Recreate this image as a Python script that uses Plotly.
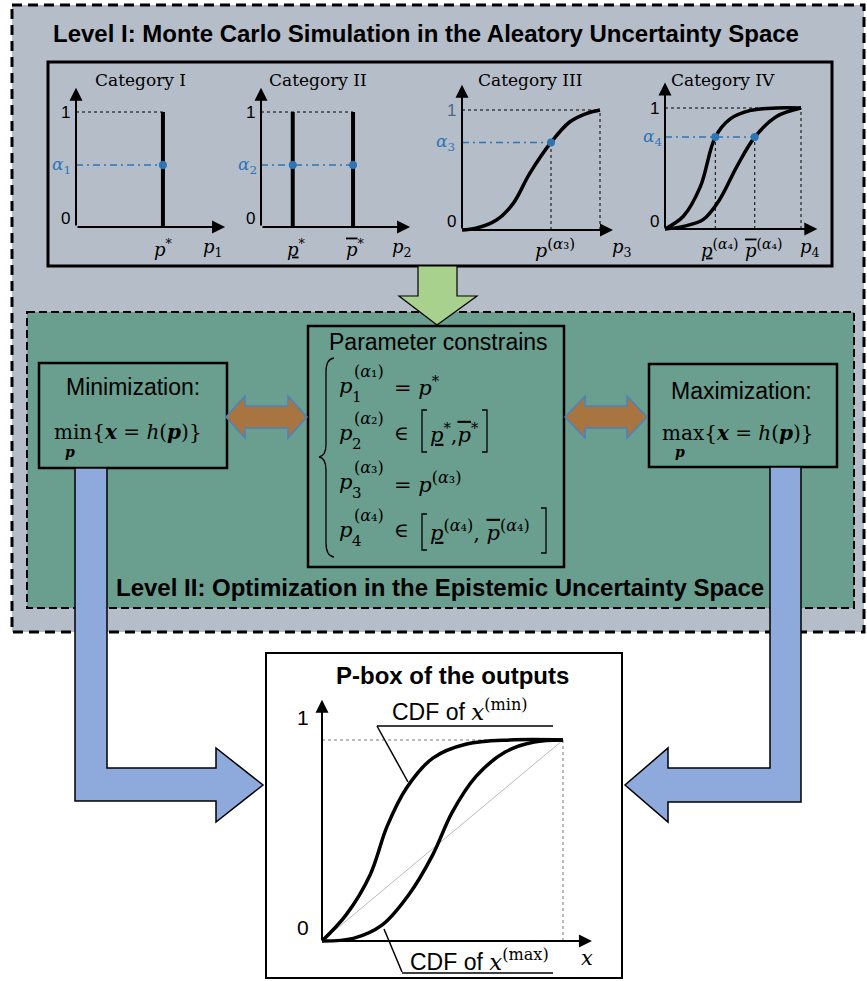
import plotly.graph_objects as go

W, H = 867, 981

# ---------------- data (unit coordinates) ----------------
cat_titles = ["Category I", "Category II", "Category III", "Category IV"]
cat1_pstar = 0.63
cat1_alpha = 0.54
cat2_bounds = [0.23, 0.667]
cat2_alpha = 0.54
cat3_x = [0, 0.10, 0.25, 0.37, 0.49, 0.645, 0.78, 0.90, 1.0]
cat3_y = [0, 0.014, 0.083, 0.22, 0.47, 0.73, 0.90, 0.97, 1.0]
cat3_alpha = 0.73
cat3_palpha = 0.645
cat4_upper_x = [0, 0.135, 0.26, 0.37, 0.48, 0.63, 0.82, 1.0]
cat4_upper_y = [0, 0.105, 0.35, 0.76, 0.91, 0.98, 1.0, 1.0]
cat4_lower_x = [0, 0.135, 0.28, 0.40, 0.53, 0.66, 0.82, 1.0]
cat4_lower_y = [0, 0.022, 0.077, 0.24, 0.52, 0.76, 0.93, 1.0]
cat4_alpha = 0.76
cat4_bounds = [0.37, 0.66]
pbox_min_x = [0, 0.10, 0.20, 0.27, 0.35, 0.46, 0.60, 0.78, 1.0]
pbox_min_y = [0, 0.13, 0.33, 0.57, 0.76, 0.91, 0.98, 1.0, 1.0]
pbox_max_x = [0, 0.13, 0.25, 0.36, 0.46, 0.54, 0.64, 0.76, 0.88, 1.0]
pbox_max_y = [0, 0.013, 0.08, 0.23, 0.43, 0.64, 0.82, 0.94, 0.99, 1.0]

# ---------------- styles ----------------
SANS = "Liberation Sans, Arial, sans-serif"
SERIF = "DejaVu Serif, serif"
GRAY = "#B5BDC8"
TEAL = "#6A9E8E"
BLUE = "#2E75B6"
ARROW_BLUE = "#8EA9DB"
GREEN = "#A9D18E"
BROWN = "#A8743F"

UL = "<span style='text-decoration:underline'><i>p</i></span>"
OL = "<span style='text-decoration:overline'><i>p</i></span>"


def supa(k, px):
    return "<sup><span style='font-size:%dpx'>(<i>α</i>%s)</span></sup>" % (px, "\u2081\u2082\u2083\u2084"[k - 1])


fig = go.Figure()
shapes = []
anns = []

# panel placement: origin pixel, pixels per unit, axis ranges
panels = {
    2: dict(ox=76, oy=227, w=138, h=115, xr=[-0.35, 1.3], yr=[-0.3, 1.35]),
    3: dict(ox=261, oy=227, w=138, h=115, xr=[-0.35, 1.3], yr=[-0.3, 1.35]),
    4: dict(ox=462, oy=230, w=138, h=120, xr=[-0.35, 1.3], yr=[-0.3, 1.3]),
    5: dict(ox=665, oy=229, w=136, h=121, xr=[-0.35, 1.3], yr=[-0.3, 1.3]),
    6: dict(ox=322, oy=941, w=241, h=201, xr=[-0.25, 1.25], yr=[-0.15, 1.3]),
}

layout_axes = {
    "xaxis": dict(domain=[0, 1], range=[0, W], visible=False, fixedrange=True),
    "yaxis": dict(domain=[0, 1], range=[H, 0], visible=False, fixedrange=True),
}
for n, p in panels.items():
    ox, oy, w, h = p["ox"], p["oy"], p["w"], p["h"]
    xr, yr = p["xr"], p["yr"]
    layout_axes[f"xaxis{n}"] = dict(domain=[(ox + xr[0] * w) / W, (ox + xr[1] * w) / W],
                                    range=xr, visible=False, fixedrange=True, anchor=f"y{n}")
    layout_axes[f"yaxis{n}"] = dict(domain=[1 - (oy - yr[0] * h) / H, 1 - (oy - yr[1] * h) / H],
                                    range=yr, visible=False, fixedrange=True, anchor=f"x{n}")


def rect(x0, y0, x1, y1, color="black", width=2, dash="solid", fill="rgba(0,0,0,0)", layer="above"):
    shapes.append(dict(type="rect", xref="x", yref="y", x0=x0, y0=y0, x1=x1, y1=y1,
                       line=dict(color=color, width=width, dash=dash), fillcolor=fill, layer=layer))


def path(d, fill="rgba(0,0,0,0)", color="black", width=1.5, layer="above"):
    shapes.append(dict(type="path", xref="x", yref="y", path=d, fillcolor=fill,
                       line=dict(color=color, width=width), layer=layer))


def seg(x0, y0, x1, y1, color="black", width=1.5):
    shapes.append(dict(type="line", xref="x", yref="y", x0=x0, y0=y0, x1=x1, y1=y1,
                       line=dict(color=color, width=width), layer="above"))


def txt(x, y, s, size=16, family=SANS, color="black", xanchor="center", yanchor="middle"):
    anns.append(dict(x=x, y=y, xref="x", yref="y", text=s, showarrow=False,
                     font=dict(size=size, family=family, color=color),
                     xanchor=xanchor, yanchor=yanchor))


def axis_arrow(n, x1, y1):
    anns.append(dict(x=x1, y=y1, ax=0, ay=0, xref=f"x{n}", yref=f"y{n}", axref=f"x{n}", ayref=f"y{n}",
                     text="", showarrow=True, arrowhead=2, arrowsize=1.3, arrowwidth=2,
                     arrowcolor="black", standoff=0, startstandoff=0))


def line(n, xs, ys, color="black", width=1, dash="solid", shape="linear"):
    fig.add_trace(go.Scatter(x=xs, y=ys, xaxis=f"x{n}", yaxis=f"y{n}", mode="lines",
                             line=dict(color=color, width=width, dash=dash, shape=shape, smoothing=1.0),
                             hoverinfo="skip", showlegend=False))


def dots(n, xs, ys):
    fig.add_trace(go.Scatter(x=xs, y=ys, xaxis=f"x{n}", yaxis=f"y{n}", mode="markers",
                             marker=dict(color=BLUE, size=8), hoverinfo="skip", showlegend=False))


DASH = "3px,3px"
DASHDOT = "7px,4px,2px,4px"

# ---------------- backgrounds / boxes ----------------
rect(12, 5, 864, 632, width=3, dash="10px,6px", fill=GRAY, layer="below")
rect(48, 62, 832, 266, width=3, layer="below")
rect(27, 312, 854, 608, width=2, dash="8px,4px", fill=TEAL, layer="below")
rect(308, 326, 564, 567, width=2.5)
rect(39, 363, 227, 468, width=2.5)
rect(649, 364, 837, 467, width=2.5)
rect(266, 653, 622, 978, width=2)

# arrows
path("M418,266 L457,266 L457,296 L477,296 L437,325 L399,296 L418,296 Z", fill=GREEN, color="black", width=1.2)
path("M226,417 L245,396 L245,406 L288,406 L288,396 L307,417 L288,438 L288,428 L245,428 L245,438 Z",
     fill=BROWN, color="#4F81BD", width=1.5)
path("M565,417 L585,396 L585,406 L627,406 L627,396 L647,417 L627,438 L627,428 L585,428 L585,438 Z",
     fill=BROWN, color="#4F81BD", width=1.5)
path("M75,468 L107,468 L107,768 L216,768 L216,748 L263,785 L216,822 L216,801 L75,801 Z",
     fill=ARROW_BLUE, color="black", width=1.5)
path("M770,467 L801,467 L801,802 L668,802 L668,822 L625,785 L668,748 L668,768 L770,768 Z",
     fill=ARROW_BLUE, color="black", width=1.5)

# ---------------- titles ----------------
txt(426, 33, "<b>Level I: Monte Carlo Simulation in the Aleatory Uncertainty Space</b>", size=24)
txt(440, 587, "<b>Level II: Optimization in the Epistemic Uncertainty Space</b>", size=24)
txt(140, 80, cat_titles[0], size=17, family=SERIF)
txt(318, 80, cat_titles[1], size=17, family=SERIF)
txt(530, 80, cat_titles[2], size=17, family=SERIF)
txt(723, 80, cat_titles[3], size=17, family=SERIF)

# ---------------- Category I ----------------
n = 2
axis_arrow(n, 1.08, 0)
axis_arrow(n, 0, 1.21)
line(n, [0, cat1_pstar], [1, 1], dash=DASH)
line(n, [cat1_pstar, cat1_pstar], [0, 1], width=4)
line(n, [0, cat1_pstar], [cat1_alpha, cat1_alpha], color=BLUE, width=1.5, dash=DASHDOT)
dots(n, [cat1_pstar], [cat1_alpha])
txt(72, 112, "1", size=17, xanchor="right")
txt(72, 218, "0", size=17, xanchor="right")
txt(73, 165, "<i>α</i><sub>1</sub>", size=17, family=SERIF, color=BLUE, xanchor="right")
txt(163, 248, "<i>p</i><sup>*</sup>", size=18, family=SERIF)
txt(213, 248, "<i>p</i><sub>1</sub>", size=18, family=SERIF)

# ---------------- Category II ----------------
n = 3
axis_arrow(n, 1.08, 0)
axis_arrow(n, 0, 1.21)
line(n, [0, cat2_bounds[1]], [1, 1], dash=DASH)
for b in cat2_bounds:
    line(n, [b, b], [0, 1], width=4)
line(n, [0, cat2_bounds[1]], [cat2_alpha, cat2_alpha], color=BLUE, width=1.5, dash=DASHDOT)
dots(n, cat2_bounds, [cat2_alpha, cat2_alpha])
txt(257, 112, "1", size=17, xanchor="right")
txt(257, 218, "0", size=17, xanchor="right")
txt(259, 165, "<i>α</i><sub>2</sub>", size=17, family=SERIF, color=BLUE, xanchor="right")
txt(296, 248, UL + "<sup>*</sup>", size=18, family=SERIF)
txt(355, 248, OL + "<sup>*</sup>", size=18, family=SERIF)
txt(402, 248, "<i>p</i><sub>2</sub>", size=18, family=SERIF)

# ---------------- Category III ----------------
n = 4
axis_arrow(n, 1.094, 0)
axis_arrow(n, 0, 1.21)
line(n, [0, 1], [1, 1], dash=DASH)
line(n, [1, 1], [0, 1], dash=DASH)
line(n, [cat3_palpha, cat3_palpha], [0, cat3_alpha], dash=DASH)
line(n, [0, cat3_palpha], [cat3_alpha, cat3_alpha], color=BLUE, width=1.5, dash=DASHDOT)
line(n, cat3_x, cat3_y, width=3.5, shape="spline")
dots(n, [cat3_palpha], [cat3_alpha])
txt(458, 110, "1", size=17, color="#4A6A8A", xanchor="right")
txt(458, 221, "0", size=17, xanchor="right")
txt(457, 142, "<i>α</i><sub>3</sub>", size=17, family=SERIF, color=BLUE, xanchor="right")
txt(555, 248, "<i>p</i>" + supa(3, 15), size=19, family=SERIF)
txt(622, 248, "<i>p</i><sub>3</sub>", size=18, family=SERIF)

# ---------------- Category IV ----------------
n = 5
axis_arrow(n, 1.12, 0)
axis_arrow(n, 0, 1.21)
line(n, [0, 1], [1, 1], dash=DASH)
line(n, [1, 1], [0, 1], dash=DASH)
for b in cat4_bounds:
    line(n, [b, b], [0, cat4_alpha], dash=DASH)
line(n, [0, cat4_bounds[1]], [cat4_alpha, cat4_alpha], color=BLUE, width=1.5, dash=DASHDOT)
line(n, cat4_upper_x, cat4_upper_y, width=3.5, shape="spline")
line(n, cat4_lower_x, cat4_lower_y, width=3.5, shape="spline")
dots(n, cat4_bounds, [cat4_alpha, cat4_alpha])
txt(661, 108, "1", size=17, xanchor="right")
txt(661, 221, "0", size=17, xanchor="right")
txt(664, 137, "<i>α</i><sub>4</sub>", size=17, family=SERIF, color=BLUE, xanchor="right")
txt(720, 248, UL + supa(4, 14), size=18, family=SERIF)
txt(764, 248, OL + supa(4, 14), size=18, family=SERIF)
txt(810, 248, "<i>p</i><sub>4</sub>", size=18, family=SERIF)

# ---------------- Level II boxes ----------------
txt(133, 387, "Minimization:", size=23)
txt(52, 432, "min{<b><i>x</i></b> = <i>h</i>(<b><i>p</i></b>)}", size=20, family=SERIF, xanchor="left")
txt(70, 452, "<b><i>p</i></b>", size=14, family=SERIF)
txt(741, 391, "Maximization:", size=23)
txt(660, 433, "max{<b><i>x</i></b> = <i>h</i>(<b><i>p</i></b>)}", size=20, family=SERIF, xanchor="left")
txt(680, 452, "<b><i>p</i></b>", size=14, family=SERIF)

txt(438, 342, "Parameter constrains", size=23)
# left brace
path("M334,358 Q326,359 326,372 L326,444 Q326,456 319,457 Q326,458 326,470 L326,543 Q326,556 334,557",
     color="black", width=1.3)
rows_y = [386, 433, 482, 530]
for i, yy in enumerate(rows_y):
    k = i + 1
    txt(337, yy, "<i>p</i>", size=21, family=SERIF, xanchor="left")
    txt(352, yy - 15, "(<i>α</i>" + "\u2081\u2082\u2083\u2084"[i] + ")", size=16, family=SERIF, xanchor="left")
    txt(350, yy + 11, str(k), size=15, family=SERIF, xanchor="left")
txt(392, rows_y[0], "= <i>p</i><sup>*</sup>", size=21, family=SERIF, xanchor="left")
txt(392, rows_y[1], "\u2208", size=20, family=SERIF, xanchor="left")
txt(428, rows_y[1], UL + "<sup>*</sup>," + OL + "<sup>*</sup>", size=21, family=SERIF, xanchor="left")
path("M427,410 L422,410 L422,452 L427,452", width=1.3)
path("M482,410 L487,410 L487,452 L482,452", width=1.3)
txt(392, rows_y[2], "= <i>p</i>" + supa(3, 16), size=21, family=SERIF, xanchor="left")
txt(392, rows_y[3], "\u2208", size=20, family=SERIF, xanchor="left")
txt(428, rows_y[3], UL + supa(4, 16) + ", " + OL + supa(4, 16),
    size=21, family=SERIF, xanchor="left")
path("M427,514 L422,514 L422,550 L427,550", width=1.3)
path("M541,508 L546,508 L546,553 L541,553", width=1.3)

# ---------------- P-box ----------------
n = 6
axis_arrow(n, 1.12, 0)
axis_arrow(n, 0, 1.2)
line(n, [0, 1], [1, 1], color="#777777", dash=DASH)
line(n, [1, 1], [0, 1], color="#777777", dash=DASH)
line(n, [0, 1], [0, 1], color="#BBBBBB", width=1)
line(n, pbox_min_x, pbox_min_y, width=3.5, shape="spline")
line(n, pbox_max_x, pbox_max_y, width=3.5, shape="spline")
txt(452, 675, "<b>P-box of the outputs</b>", size=24)
txt(311, 717, "1", size=21, xanchor="right")
txt(311, 927, "0", size=21, xanchor="right")
txt(587, 958, "<i>x</i>", size=21, family=SERIF)
txt(460, 710, "CDF of <span style='font-family:DejaVu Serif'><i>x</i><sup>(min)</sup></span>", size=23)
seg(377, 726, 553, 726)
seg(377, 726, 408, 782)
txt(479, 960, "CDF of <span style='font-family:DejaVu Serif'><i>x</i><sup>(max)</sup></span>", size=23)
seg(402, 973, 553, 973)
seg(384, 929, 402, 972)

fig.update_layout(
    width=W, height=H, autosize=False,
    margin=dict(l=0, r=0, t=0, b=0, pad=0),
    paper_bgcolor="white", plot_bgcolor="rgba(0,0,0,0)",
    showlegend=False, shapes=shapes, annotations=anns,
    **layout_axes,
)

fig.write_html("out.html", config={"displayModeBar": False},
               post_script="document.body.style.margin='0';document.body.style.overflow='hidden';")
